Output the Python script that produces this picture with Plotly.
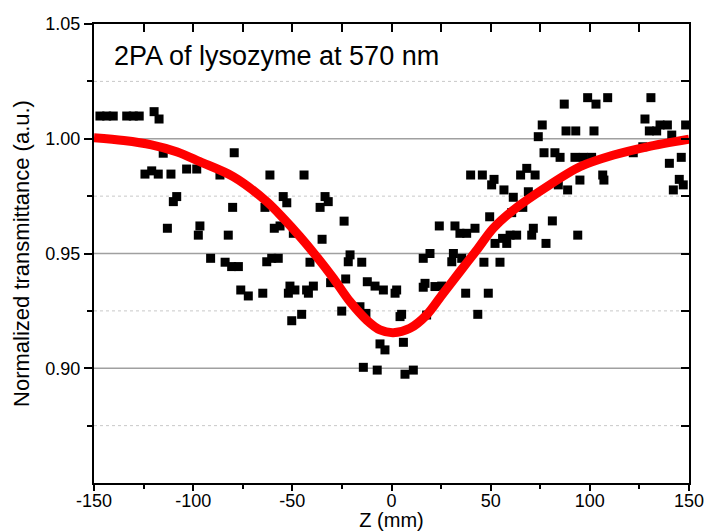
import plotly.graph_objects as go

# Measured data (Z in mm, normalized transmittance)
z_data = [-147, -143.6, -140.3, -133.5, -130.2, -127.2, -124.3, -120.9, -119.7, -117.6,
          -117.2, -115.1, -113.0, -111.2, -110.0, -108.3, -103.3, -98.2, -97.4, -96.6,
          -91.2, -86.5, -83.9, -82.3, -80.6, -80.1, -79.3, -77.2, -76.0, -72.2,
          -64.9, -63.8, -62.9, -61.3, -60.4, -59.1, -57.1, -56.2, -54.6, -52.8,
          -52.0, -51.2, -50.3, -49.5, -48.7, -45.3, -44.1, -42.8, -41.9, -41.1,
          -39.4, -36.0, -35.0, -33.5, -31.9, -30.7, -25.1, -23.9, -23.1, -21.8,
          -20.9, -15.9, -15.0, -14.2, -12.9, -12.2, -8.3, -7.2, -5.8, -4.1,
          -3.3, 1.8, 2.6, 4.3, 5.1, 6.0, 6.8, 11.0, 16.0, 16.0,
          16.9, 17.7, 19.4, 21.9, 24.1, 25.3, 30.4, 31.2, 32.0, 34.5,
          35.4, 37.4, 37.9, 39.9, 42.1, 43.5, 45.8, 46.6, 48.8, 49.5,
          50.5, 51.7, 52.2, 54.7, 56.0, 56.7, 58.1, 59.8, 60.6, 61.4,
          63.1, 65.1, 66.2, 68.2, 69.0, 70.7, 71.5, 72.4, 74.0, 76.0,
          76.9, 77.9, 81.1, 82.4, 84.1, 85.0, 87.1, 88.0, 88.8, 92.5,
          92.9, 93.9, 95.0, 96.7, 98.9, 100.9, 102.1, 103.1, 106.5, 107.1,
          109.0, 121.9, 126.7, 127.8, 130.0, 130.8, 133.7, 135.4, 139.1, 140.1,
          141.3, 142.1, 145.1, 146.1, 147.1, 148.3]
t_data = [1.0099, 1.0099, 1.0099, 1.0099, 1.0099, 1.0099, 0.9846, 0.9860, 1.0118, 0.9846,
          1.0086, 0.9937, 0.9610, 0.9846, 0.9726, 0.9748, 0.9868, 0.9868, 0.9580, 0.9620,
          0.9479, 0.9842, 0.9462, 0.9580, 0.9443, 0.9701, 0.9939, 0.9443, 0.9341, 0.9315,
          0.9327, 0.9701, 0.9464, 0.9842, 0.9479, 0.9610, 0.9479, 0.9620, 0.9748, 0.9721,
          0.9327, 0.9358, 0.9207, 0.9588, 0.9341, 0.9235, 0.9842, 0.9341, 0.9327, 0.9462,
          0.9358, 0.9701, 0.9562, 0.9748, 0.9726, 0.9373, 0.9249, 0.9641, 0.9389, 0.9464,
          0.9494, 0.9268, 0.9462, 0.9004, 0.9239, 0.9377, 0.9358, 0.8992, 0.9106, 0.9341,
          0.9080, 0.9327, 0.9341, 0.9225, 0.9235, 0.9113, 0.8974, 0.8992, 0.9479, 0.9353,
          0.9370, 0.9232, 0.9500, 0.9356, 0.9620, 0.9358, 0.9464, 0.9500, 0.9620, 0.9588,
          0.9479, 0.9327, 0.9588, 0.9842, 0.9610, 0.9235, 0.9842, 0.9462, 0.9327, 0.9660,
          0.9799, 0.9823, 0.9544, 0.9462, 0.9566, 0.9777, 0.9544, 0.9580, 0.9678, 0.9745,
          0.9580, 0.9842, 0.9701, 0.9871, 0.9769, 0.9580, 0.9610, 0.9842, 1.0009, 1.0060,
          0.9939, 0.9544, 0.9642, 0.9939, 0.9799, 0.9919, 1.0151, 1.0034, 0.9777, 0.9919,
          1.0034, 0.9580, 0.9820, 0.9919, 1.0179, 0.9919, 1.0034, 1.0151, 0.9842, 0.9820,
          1.0179, 0.9939, 0.9965, 1.0086, 1.0034, 1.0179, 1.0034, 1.0060, 1.0060, 0.9893,
          1.0016, 0.9777, 0.9823, 0.9919, 0.9799, 1.0060]

# Fit curve
z_fit = [-150, -135, -121, -108, -96.6, -79.8, -62.9, -54.5, -46.1, -37.7, -29.3, -20.9, -12.5, -5.8, 0.9,
         9.3, 17.7, 26.1, 34.5, 43.0, 51.3, 61.5, 78.3, 95, 112, 129, 150]
t_fit = [1.0004, 0.9992, 0.9973, 0.9942, 0.9900, 0.9835, 0.9726, 0.9653, 0.9573, 0.9486, 0.9392, 0.9290,
         0.9210, 0.9167, 0.9155, 0.9174, 0.9232, 0.9327, 0.9421, 0.9515, 0.9610, 0.9690, 0.9791, 0.9878,
         0.9929, 0.9965, 0.9998]

x_ticks = [-150, -100, -50, 0, 50, 100, 150]
x_tick_text = ["-150", "-100", "-50", "0", "50", "100", "150"]
y_ticks = [0.90, 0.95, 1.00, 1.05]
y_tick_text = ["0.90", "0.95", "1.00", "1.05"]
y_minor = [0.875, 0.925, 0.975, 1.025]

FONT = "Liberation Sans, Arial, sans-serif"

fig = go.Figure()
fig.add_trace(go.Scatter(x=z_data, y=t_data, mode="markers",
                         marker=dict(symbol="square", size=9, color="black", line=dict(width=0)),
                         showlegend=False))
fig.add_trace(go.Scatter(x=z_fit, y=t_fit, mode="lines",
                         line=dict(color="#ff0000", width=9, shape="spline", smoothing=0.9),
                         showlegend=False))
# dummy trace for mirrored (inside-tick) axes
fig.add_trace(go.Scatter(x=[None], y=[None], xaxis="x2", yaxis="y2", showlegend=False, hoverinfo="skip"))

fig.update_layout(
    width=709, height=531,
    margin=dict(l=94, r=20, t=24, b=48),
    paper_bgcolor="white", plot_bgcolor="white",
    font=dict(family=FONT, color="black"),
    xaxis=dict(range=[-150, 150], tickvals=x_ticks, ticktext=x_tick_text, ticks="outside", ticklen=6,
               tickwidth=1.5, tickcolor="black", showline=True, linecolor="black", linewidth=2,
               showgrid=False, zeroline=False, tickfont=dict(size=18, family=FONT),
               automargin=False, ticklabelstandoff=-6,
               title=dict(text="Z (mm)", font=dict(size=20, family=FONT), standoff=7),
               minor=dict(dtick=25, ticks="outside", ticklen=4, tickwidth=1.5, tickcolor="black", showgrid=False)),
    yaxis=dict(range=[0.85, 1.05], tickvals=y_ticks, ticktext=y_tick_text, ticks="outside", ticklen=8,
               tickwidth=1.5, tickcolor="black", showline=True, linecolor="black", linewidth=2,
               showgrid=False, zeroline=False, tickfont=dict(size=18, family=FONT), automargin=False,
               title=dict(text="Normalized transmittance (a.u.)", font=dict(size=22, family=FONT), standoff=10),
               minor=dict(tickvals=y_minor, ticks="outside", ticklen=5, tickwidth=1.5,
                          tickcolor="black", showgrid=False)),
    xaxis2=dict(overlaying="x", side="top", anchor="y2", range=[-150, 150], tickvals=x_ticks,
                ticks="inside", ticklen=8, tickwidth=1.5, tickcolor="black", showticklabels=False,
                showline=True, linecolor="black", linewidth=2, showgrid=False, zeroline=False, automargin=False,
                minor=dict(dtick=25, ticks="inside", ticklen=8, tickwidth=1.5, tickcolor="black", showgrid=False)),
    yaxis2=dict(overlaying="y", side="right", anchor="x2", range=[0.85, 1.05], tickvals=y_ticks,
                ticks="inside", ticklen=8, tickwidth=1.5, tickcolor="black", showticklabels=False,
                showline=True, linecolor="black", linewidth=2, showgrid=False, zeroline=False, automargin=False,
                minor=dict(tickvals=y_minor, ticks="inside", ticklen=8, tickwidth=1.5,
                           tickcolor="black", showgrid=False)),
)

# horizontal grid lines (major solid, minor dashed)
for yv in [0.90, 0.95, 1.00]:
    fig.add_hline(y=yv, line=dict(color="#a0a0a0", width=1.5), layer="below")
for yv in y_minor:
    fig.add_hline(y=yv, line=dict(color="#c8c8c8", width=1, dash="dot"), layer="below")

fig.add_annotation(text="2PA of lysozyme at 570 nm", xref="paper", yref="paper",
                   x=0.031, y=0.93, xanchor="left", yanchor="middle", showarrow=False,
                   font=dict(size=27, family=FONT, color="black"))

fig.write_html("out.html")
